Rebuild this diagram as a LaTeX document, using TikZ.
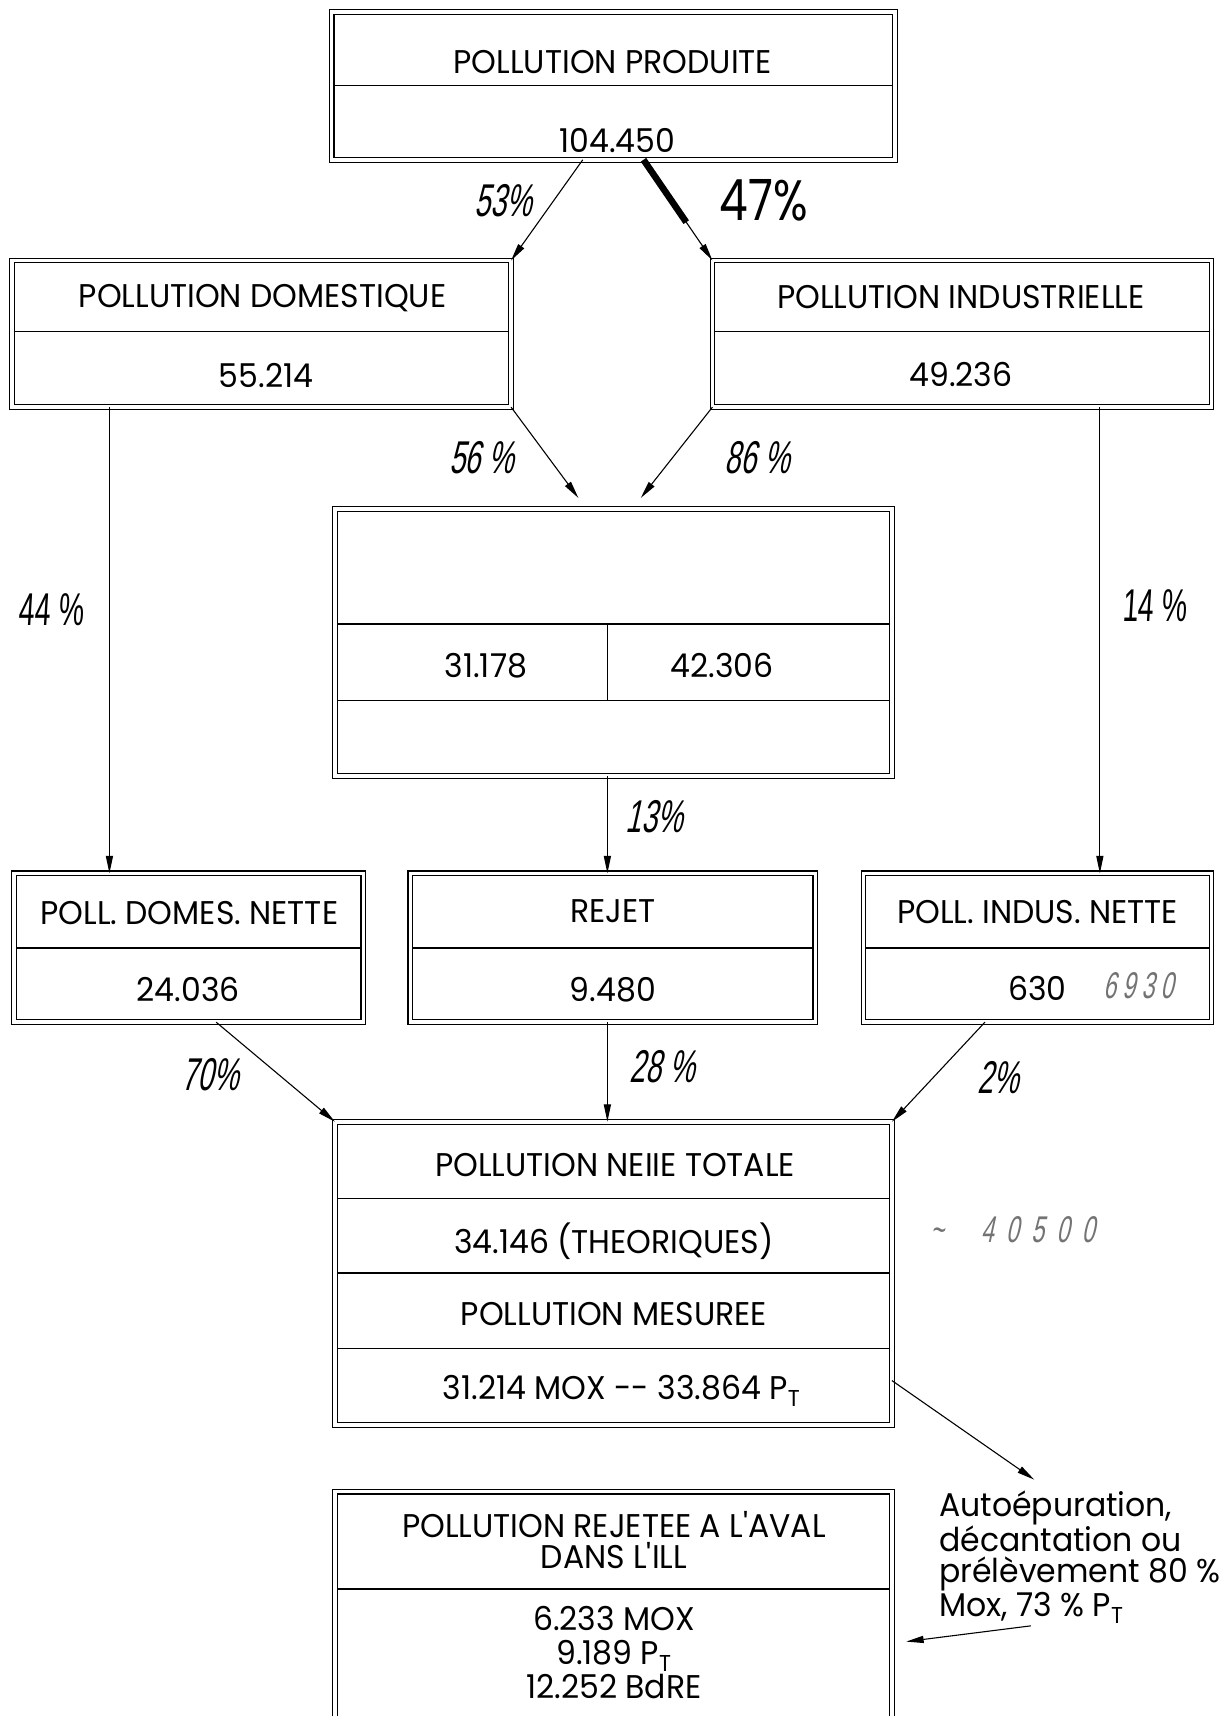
\documentclass[tikz,border=0pt]{standalone}
\usepackage{fontspec}
\setmainfont{Poppins}[FakeStretch=0.96]
\newfontfamily\hand{Liberation Sans}[FakeStretch=0.62,FakeSlant=0.22]
\newfontfamily\handup{Liberation Sans}[FakeStretch=0.62,FakeSlant=0.06]
\newfontfamily\bigfont{Poppins}[FakeStretch=0.8]
\usetikzlibrary{arrows.meta,calc}
\begin{document}
\begin{tikzpicture}[x=1pt,y=-1pt,
  dbox/.style={draw, line width=1.1pt, double, double distance=3.2pt, fill=white, inner sep=0pt, outer sep=0pt},
  txt/.style={font=\fontsize{30}{30}\selectfont, inner sep=0pt, align=center},
  hnd/.style={font=\hand\fontsize{42}{42}\selectfont, inner sep=0pt},
  hndup/.style={font=\handup\fontsize{42}{42}\selectfont, inner sep=0pt},
  bigtxt/.style={font=\bigfont\fontsize{52}{52}\selectfont, inner sep=0pt},
  note/.style={font=\hand\fontsize{34}{34}\selectfont, text=black!55, inner sep=0pt},
  arr/.style={line width=1pt, -{Triangle[length=16pt,width=6.5pt]}},
  sep/.style={line width=1.4pt}]
\clip (0,0) rectangle (1119,1568);
\fill[white] (0,0) rectangle (1119,1568);
% boxes
\node[dbox, minimum width=515, minimum height=135] (top) at (560.5,78.5) {};
\node[dbox, minimum width=456, minimum height=134] (dom) at (239,305) {};
\node[dbox, minimum width=456, minimum height=134] (ind) at (879,305) {};
\node[dbox, minimum width=509, minimum height=244] (mid) at (560.5,587) {};
\node[dbox, minimum width=319, minimum height=136] (pdn) at (172.5,866) {};
\node[dbox, minimum width=370, minimum height=136] (rej) at (560,866) {};
\node[dbox, minimum width=318, minimum height=136] (pin) at (948,866) {};
\node[dbox, minimum width=509, minimum height=277] (tot) at (560.5,1163.5) {};
\node[dbox, minimum width=509, minimum height=260] (out) at (560.5,1493) {};
% dividers
\draw[sep] ($(top.west |- 0,78)+(2.5,0)$) -- ($(top.east |- 0,78)+(-2.5,0)$);
\draw[sep] ($(dom.west |- 0,303)+(2.5,0)$) -- ($(dom.east |- 0,303)+(-2.5,0)$);
\draw[sep] ($(ind.west |- 0,303)+(2.5,0)$) -- ($(ind.east |- 0,303)+(-2.5,0)$);
\draw[sep] ($(mid.west |- 0,570)+(2.5,0)$) -- ($(mid.east |- 0,570)+(-2.5,0)$);
\draw[sep] ($(mid.west |- 0,640)+(2.5,0)$) -- ($(mid.east |- 0,640)+(-2.5,0)$);
\coordinate (s13) at ($(mid.south)+(-5.5,0)$);
\draw[sep] (s13 |- 0,570) -- (s13 |- 0,640);
\draw[sep] ($(pdn.west |- 0,866)+(2.5,0)$) -- ($(pdn.east |- 0,866)+(-2.5,0)$);
\draw[sep] ($(rej.west |- 0,866)+(2.5,0)$) -- ($(rej.east |- 0,866)+(-2.5,0)$);
\draw[sep] ($(pin.west |- 0,866)+(2.5,0)$) -- ($(pin.east |- 0,866)+(-2.5,0)$);
\draw[sep] ($(tot.west |- 0,1095)+(2.5,0)$) -- ($(tot.east |- 0,1095)+(-2.5,0)$);
\draw[sep] ($(tot.west |- 0,1163)+(2.5,0)$) -- ($(tot.east |- 0,1163)+(-2.5,0)$);
\draw[sep] ($(tot.west |- 0,1232)+(2.5,0)$) -- ($(tot.east |- 0,1232)+(-2.5,0)$);
\draw[sep] ($(out.west |- 0,1452)+(2.5,0)$) -- ($(out.east |- 0,1452)+(-2.5,0)$);
% texts
\node[txt] (tTop) at (560,57) {POLLUTION PRODUITE};
\node[txt] (vTop) at (564,128) {104.450};
\node[txt] (tDom) at (240,272) {POLLUTION DOMESTIQUE};
\node[txt] (vDom) at (243,343) {55.214};
\node[txt] (tInd) at (878,271) {POLLUTION INDUSTRIELLE};
\node[txt] (vInd) at (878,342) {49.236};
\node[txt] (vMidA) at (444,608) {31.178};
\node[txt] (vMidB) at (660,608) {42.306};
\node[txt] (tPdn) at (173,834) {POLL. DOMES. NETTE};
\node[txt] (vPdn) at (172,904) {24.036};
\node[txt] (tRej) at (560,833) {REJET};
\node[txt] (vRej) at (560,904) {9.480};
\node[txt] (tPin) at (948,833) {POLL. INDUS. NETTE};
\node[txt] (vPin) at (948,903) {630};
\node[note] (nPin) at (1040,901) {6\,9\,3\,0};
\node[txt] (tTot) at (562,1065) {POLLUTION NEIIE TOTALE};
\node[txt] (vTot) at (561,1134) {34.146 (THEORIQUES)};
\node[txt] (tMes) at (561,1201) {POLLUTION MESUREE};
\node[txt] (vMes) at (568,1271) {31.214 MOX -{}- 33.864 P\textsubscript{T}};
\node[txt, font=\fontsize{30}{28}\selectfont] (tOut) at (561,1407) {POLLUTION REJETEE A L\textquotesingle AVAL\\DANS L\textquotesingle ILL};
\node[txt, font=\fontsize{30}{31}\selectfont] (vOut) at (561,1510) {6.233 MOX\\9.189 P\textsubscript{T}\\12.252 BdRE};
\node[txt, font=\fontsize{30}{28.5}\selectfont, align=left, anchor=north west] (auto) at (858,1362) {Autoépuration,\\décantation ou\\prélèvement 80~\%\\Mox, 73~\% P\textsubscript{T}};
\node[note] (n405) at (925,1124) {\textasciitilde\quad 4\,\,0\,\,5\,\,0\,\,0};
% labels
\node[hnd] (l53) at (460,183) {53\%};
\node[bigtxt] (l47) at (698,183) {47\%};
\node[hnd] (l56) at (440,418) {56 \%};
\node[hnd] (l86) at (692,418) {86 \%};
\node[hndup] (l44) at (47,557) {44 \%};
\node[hndup] (l14) at (1055,553) {14 \%};
\node[hnd] (l13) at (598,746) {13\%};
\node[hnd] (l70) at (192,982) {70\%};
\node[hnd] (l28) at (605,975) {28 \%};
\node[hnd] (l2) at (912,985) {2\%};
% connectors
\draw[arr] ($(top.south)+(-28,0)$) -- (dom.north east);
\coordinate (k47a) at ($(top.south)+(27.5,0)$);
\coordinate (k47) at ($(k47a)!0.62!(ind.north west)$);
\draw[line width=6pt] (k47a) -- (k47);
\draw[arr] (k47) -- (ind.north west);
\draw[arr] (dom.south east) -- ($(mid.north)+(-32,-10)$);
\draw[arr] (ind.south west) -- ($(mid.north)+(25,-10)$);
\coordinate (s44) at ($(dom.south)+(-139,0)$);
\draw[arr] (s44) -- (s44 |- pdn.north);
\coordinate (s14) at ($(ind.south)+(126,0)$);
\draw[arr] (s14) -- (s14 |- pin.north);
\draw[arr] (s13) -- (s13 |- rej.north);
\draw[arr] ($(pdn.south)+(25,0)$) -- (tot.north west);
\coordinate (s28) at ($(rej.south)+(-5,0)$);
\draw[arr] (s28) -- (s28 |- tot.north);
\draw[arr] ($(pin.south)+(-48,0)$) -- (tot.north east);
\draw[arr] ($(tot.east)+(0,98)$) -- ($(auto.north west)+(87,-10)$);
\draw[arr] ($(auto.south west)+(84,2)$) -- ($(out.east)+(13,7)$);
\end{tikzpicture}
\end{document}
